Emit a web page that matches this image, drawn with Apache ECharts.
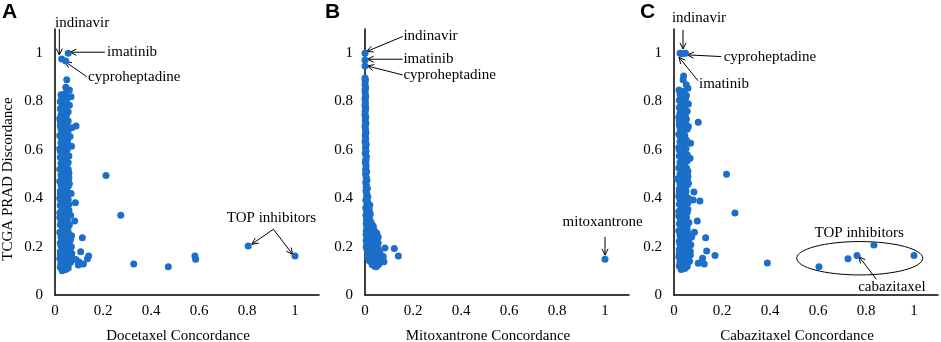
<!DOCTYPE html>
<html>
<head>
<meta charset="utf-8">
<script src="https://cdn.jsdelivr.net/npm/echarts@6/dist/echarts.min.js"></script>
<style>
html, body { margin: 0; padding: 0; background: #fff; }
#main { width: 941px; height: 342px; }
</style>
</head>
<body>
<div id="main"></div>
<script>
// ---------- data: [concordance, TCGA PRAD discordance] ----------
const docetaxelCluster = [
    [0.03,0.1],[0.045,0.105],[0.022,0.115],[0.055,0.112],[0.038,0.12],[0.025,0.13],[0.05,0.128],[0.065,0.135],
    [0.032,0.14],[0.02,0.15],[0.045,0.148],[0.06,0.155],[0.028,0.165],[0.052,0.17],[0.07,0.172],[0.022,0.18],
    [0.04,0.185],[0.058,0.19],[0.03,0.2],[0.068,0.2],[0.048,0.205],[0.022,0.215],[0.06,0.22],[0.035,0.225],
    [0.05,0.235],[0.025,0.24],[0.069,0.245],[0.042,0.25],[0.02,0.26],[0.055,0.262],[0.032,0.27],[0.048,0.28],
    [0.022,0.29],[0.06,0.29],[0.038,0.3],[0.025,0.31],[0.052,0.315],[0.065,0.33],[0.032,0.325],[0.02,0.34],
    [0.045,0.34],[0.058,0.35],[0.03,0.355],[0.022,0.37],[0.05,0.368],[0.038,0.38],[0.025,0.39],[0.055,0.395],
    [0.02,0.4],[0.042,0.405],[0.03,0.415],[0.067,0.42],[0.05,0.425],[0.022,0.43],[0.038,0.44],[0.055,0.45],
    [0.025,0.455],[0.045,0.465],[0.02,0.47],[0.035,0.48],[0.058,0.485],[0.025,0.495],[0.048,0.5],[0.03,0.51],
    [0.02,0.52],[0.055,0.52],[0.04,0.53],[0.025,0.545],[0.05,0.548],[0.032,0.56],[0.022,0.57],[0.058,0.575],
    [0.042,0.58],[0.028,0.59],[0.05,0.6],[0.02,0.605],[0.069,0.615],[0.038,0.62],[0.025,0.63],[0.052,0.635],
    [0.03,0.645],[0.0625,0.655],[0.02,0.66],[0.045,0.665],[0.028,0.675],[0.055,0.68],[0.035,0.69],[0.022,0.7],
    [0.048,0.705],[0.03,0.715],[0.055,0.72],[0.02,0.73],[0.04,0.735],[0.025,0.745],[0.055,0.758],[0.035,0.76],
    [0.022,0.77],[0.045,0.775],[0.03,0.785],[0.05,0.79],[0.022,0.8],[0.04,0.805],[0.028,0.815],[0.067,0.82],
    [0.035,0.828],[0.045,0.835],
    [0.038,0.108],[0.025,0.122],[0.045,0.135],[0.058,0.142],[0.035,0.155],[0.022,0.165],[0.045,0.175],[0.032,0.19],
    [0.055,0.198],[0.025,0.205],[0.04,0.212],[0.05,0.222],[0.028,0.232],[0.06,0.24],[0.035,0.245],[0.048,0.255],
    [0.028,0.265],[0.04,0.275],[0.055,0.282],[0.032,0.292],[0.048,0.3],[0.03,0.302],[0.045,0.312],[0.02,0.32],
    [0.04,0.33],[0.055,0.338],[0.028,0.345],[0.04,0.358],[0.03,0.372],[0.058,0.375],[0.045,0.385],[0.03,0.398],
    [0.048,0.41],[0.022,0.418],[0.04,0.425],[0.03,0.435],[0.048,0.442],[0.035,0.458],[0.055,0.47],[0.028,0.475],
    [0.042,0.49],[0.035,0.5],[0.058,0.505],[0.038,0.515],[0.045,0.545],[0.03,0.53],[0.04,0.555],[0.028,0.565],
    [0.045,0.57],[0.035,0.585],[0.022,0.595],[0.042,0.605],[0.03,0.615],[0.045,0.625],[0.035,0.635],[0.04,0.65],
    [0.025,0.652],[0.035,0.665],[0.042,0.68],[0.025,0.688],[0.045,0.695],[0.038,0.71],[0.022,0.718],[0.045,0.728],
    [0.03,0.735],[0.048,0.745],[0.038,0.752],[0.028,0.765],[0.04,0.79],[0.032,0.8],[0.048,0.81],[0.025,0.828],
    [0.06,0.785],[0.055,0.548],[0.06,0.46],[0.065,0.23],[0.062,0.185],[0.068,0.16],[0.055,0.125]
];
const docetaxelOutliers = [
    [0.2125,0.494],[0.274,0.33],[0.328,0.128],[0.472,0.117],[0.583,0.161],[0.586,0.148],[0.805,0.203],[1.0,0.161],
    [0.114,0.237],[0.107,0.179],[0.14,0.161],[0.0875,0.699],[0.07,0.692],[0.085,0.382],[0.082,0.306],[0.099,0.138],
    [0.118,0.128],[0.097,0.124],[0.135,0.15],[0.0867,0.147],[0.049,0.89],[0.045,0.859],[0.06,0.848],
    [0.028,0.976],[0.045,0.968],[0.055,1.0]
];

const mitoxantroneCluster = [
    [0,0.897],[0.001,0.885],[0,0.872],[0.002,0.86],[0,0.848],[0.001,0.835],[0.003,0.822],[0,0.81],[0.002,0.797],
    [0,0.785],[0.003,0.772],[0.001,0.76],[0,0.747],[0.003,0.735],[0.001,0.722],[0.004,0.71],[0,0.697],[0.002,0.685],
    [0.004,0.672],[0.001,0.66],[0.003,0.647],[0,0.635],[0.005,0.622],[0.002,0.61],[0.004,0.597],[0.001,0.585],
    [0.006,0.572],[0.003,0.56],[0.001,0.547],[0.005,0.535],[0.003,0.522],[0.007,0.51],[0.002,0.5],[0.005,0.487],
    [0.008,0.475],[0.003,0.465],[0.006,0.452],[0.01,0.44],[0.004,0.43],[0.008,0.418],[0.012,0.405],[0.005,0.395],
    [0.01,0.385],[0.02,0.372],[0.007,0.37],[0.015,0.36],[0.006,0.35],[0.012,0.34],[0.022,0.335],[0.008,0.325],
    [0.018,0.318],[0.01,0.305],[0.025,0.3],[0.015,0.29],[0.035,0.283],[0.008,0.28],[0.022,0.27],[0.012,0.26],
    [0.03,0.262],[0.049,0.255],[0.04,0.25],[0.018,0.248],[0.008,0.24],[0.028,0.238],[0.045,0.232],[0.012,0.228],
    [0.022,0.22],[0.035,0.218],[0.055,0.215],[0.008,0.212],[0.018,0.205],[0.03,0.2],[0.045,0.198],[0.012,0.195],
    [0.025,0.19],[0.038,0.185],[0.055,0.19],[0.01,0.18],[0.02,0.175],[0.032,0.172],[0.048,0.17],[0.062,0.175],
    [0.015,0.165],[0.028,0.16],[0.04,0.158],[0.055,0.155],[0.02,0.15],[0.035,0.145],[0.05,0.142],[0.065,0.14],
    [0.025,0.137],[0.04,0.13],[0.058,0.128],[0.03,0.125],[0.045,0.118],[0.052,0.122],
    [0.001,0.891],[0.002,0.854],[0.001,0.816],[0.002,0.779],[0.001,0.741],[0.002,0.704],[0.002,0.666],[0.003,0.629],
    [0.003,0.591],[0.004,0.554],[0.004,0.516],[0.006,0.48],[0.005,0.446],[0.007,0.41],
    [0.004,0.392],[0.012,0.378],[0.003,0.36],[0.018,0.35],[0.004,0.33],[0.015,0.332],[0.006,0.31],[0.02,0.31],
    [0.005,0.295],[0.03,0.29],[0.018,0.28],[0.005,0.265],[0.028,0.275],[0.04,0.265],[0.015,0.255],[0.025,0.25],
    [0.005,0.25],[0.035,0.24],[0.055,0.24],[0.018,0.235],[0.005,0.225],[0.03,0.228],[0.045,0.22],[0.015,0.215],
    [0.025,0.21],[0.04,0.21],[0.005,0.2],[0.022,0.198],[0.035,0.195],[0.05,0.205],[0.008,0.19],[0.045,0.185],
    [0.03,0.18],[0.015,0.178],[0.04,0.172],[0.055,0.168],[0.022,0.165],[0.035,0.16],[0.048,0.158],[0.012,0.158],
    [0.028,0.15],[0.042,0.148],[0.058,0.148],[0.018,0.142],[0.032,0.138],[0.05,0.135],[0.035,0.128],[0.05,0.125],
    [0.04,0.12],[0.06,0.135]
];
const mitoxantroneOutliers = [
    [0.083,0.194],[0.122,0.192],[0.139,0.161],[0.076,0.159],[0.079,0.138],[0.046,0.117],
    [0,1.0],[0,0.972],[0,0.947],[1.0,0.148]
];

const cabazitaxelCluster = [
    [0.03,0.105],[0.045,0.11],[0.022,0.12],[0.055,0.118],[0.038,0.128],[0.025,0.138],[0.05,0.135],[0.065,0.14],
    [0.032,0.148],[0.02,0.158],[0.045,0.155],[0.06,0.162],[0.028,0.17],[0.052,0.175],[0.068,0.18],[0.022,0.188],
    [0.04,0.192],[0.058,0.198],[0.03,0.205],[0.07,0.208],[0.048,0.212],[0.022,0.222],[0.06,0.228],[0.035,0.232],
    [0.05,0.242],[0.025,0.248],[0.065,0.25],[0.042,0.258],[0.02,0.266],[0.055,0.27],[0.032,0.278],[0.048,0.288],
    [0.022,0.295],[0.062,0.3],[0.038,0.308],[0.025,0.318],[0.052,0.322],[0.032,0.332],[0.02,0.345],[0.045,0.346],
    [0.058,0.355],[0.03,0.36],[0.022,0.375],[0.05,0.372],[0.038,0.385],[0.08,0.393],[0.025,0.395],[0.06,0.4],
    [0.02,0.408],[0.042,0.412],[0.03,0.42],[0.05,0.43],[0.022,0.438],[0.038,0.445],[0.055,0.455],[0.025,0.46],
    [0.045,0.47],[0.0125,0.48],[0.035,0.485],[0.058,0.49],[0.025,0.5],[0.048,0.505],[0.03,0.515],[0.02,0.525],
    [0.052,0.525],[0.04,0.535],[0.025,0.548],[0.05,0.552],[0.032,0.565],[0.067,0.566],[0.022,0.575],[0.055,0.58],
    [0.042,0.585],[0.028,0.595],[0.05,0.605],[0.02,0.61],[0.038,0.622],[0.069,0.628],[0.025,0.635],[0.052,0.64],
    [0.03,0.65],[0.045,0.66],[0.02,0.665],[0.028,0.68],[0.055,0.685],[0.035,0.695],[0.06,0.697],[0.022,0.705],
    [0.048,0.71],[0.03,0.72],[0.052,0.728],[0.02,0.735],[0.04,0.742],[0.025,0.752],[0.055,0.76],[0.035,0.765],
    [0.022,0.775],[0.045,0.78],[0.03,0.79],[0.05,0.795],[0.022,0.805],[0.04,0.81],[0.028,0.82],[0.052,0.825],
    [0.035,0.832],[0.021,0.848],[0.058,0.855],[0.051,0.869],[0.038,0.89],[0.04,0.906],
    [0.038,0.112],[0.025,0.128],[0.045,0.14],[0.058,0.148],[0.035,0.162],[0.022,0.172],[0.045,0.182],[0.032,0.196],
    [0.055,0.205],[0.025,0.21],[0.04,0.218],[0.05,0.228],[0.028,0.238],[0.058,0.245],[0.035,0.25],[0.048,0.262],
    [0.028,0.27],[0.04,0.282],[0.055,0.288],[0.032,0.298],[0.048,0.305],[0.03,0.31],[0.045,0.318],[0.02,0.328],
    [0.04,0.336],[0.055,0.342],[0.028,0.352],[0.04,0.365],[0.03,0.38],[0.058,0.382],[0.045,0.392],[0.03,0.405],
    [0.048,0.418],[0.022,0.425],[0.04,0.432],[0.03,0.442],[0.048,0.45],[0.035,0.465],[0.055,0.475],[0.028,0.47],
    [0.042,0.495],[0.035,0.508],[0.058,0.512],[0.038,0.52],[0.045,0.55],[0.03,0.538],[0.04,0.56],[0.028,0.57],
    [0.045,0.575],[0.035,0.59],[0.022,0.6],[0.042,0.61],[0.03,0.62],[0.045,0.63],[0.035,0.64],[0.04,0.655],
    [0.025,0.658],[0.035,0.67],[0.042,0.685],[0.025,0.692],[0.045,0.7],[0.038,0.715],[0.022,0.722],[0.045,0.732],
    [0.03,0.74],[0.048,0.75],[0.038,0.758],[0.028,0.77],[0.04,0.795],[0.032,0.805],[0.048,0.815],[0.025,0.832],
    [0.042,0.842],[0.03,0.84],[0.06,0.79],[0.055,0.555],[0.06,0.462],[0.065,0.235],[0.062,0.19],[0.068,0.165],
    [0.055,0.128]
];
const cabazitaxelOutliers = [
    [0.101,0.714],[0.219,0.499],[0.254,0.339],[0.083,0.426],[0.108,0.389],[0.097,0.306],[0.132,0.237],
    [0.136,0.182],[0.171,0.163],[0.119,0.152],[0.101,0.131],[0.126,0.128],[0.389,0.132],[0.074,0.241],[0.085,0.26],
    [0.025,1.0],[0.048,1.0],[0.035,0.998],
    [0.604,0.117],[0.725,0.15],[0.7625,0.163],[0.833,0.207],[1.0,0.163]
];

const panelLetters = ['A', 'B', 'C'];
const xNames = ['Docetaxel Concordance', 'Mitoxantrone Concordance', 'Cabazitaxel Concordance'];
const yName = 'TCGA PRAD Discordance';

// annotations, in data coordinates of each panel
const labels = [
    [
        { text: 'indinavir', at: [0, 1.124], align: 'left' },
        { text: 'imatinib', at: [0.217, 1.004], align: 'left' },
        { text: 'cyproheptadine', at: [0.1375, 0.903], align: 'left' },
        { text: 'TOP inhibitors', at: [0.902, 0.319], align: 'center' }
    ],
    [
        { text: 'indinavir', at: [0.16, 1.069], align: 'left' },
        { text: 'imatinib', at: [0.16, 0.975], align: 'left' },
        { text: 'cyproheptadine', at: [0.16, 0.91], align: 'left' },
        { text: 'mitoxantrone', at: [0.99, 0.303], align: 'center' }
    ],
    [
        { text: 'indinavir', at: [0.104, 1.145], align: 'center' },
        { text: 'cyproheptadine', at: [0.207, 0.986], align: 'left' },
        { text: 'imatinib', at: [0.104, 0.872], align: 'left' },
        { text: 'TOP inhibitors', at: [0.772, 0.255], align: 'center' },
        { text: 'cabazitaxel', at: [0.908, 0.034], align: 'center' }
    ]
];
const arrows = [
    [
        [[0.018, 1.10], [0.018, 0.993]],
        [[0.208, 1.004], [0.0625, 1.004]],
        [[0.132, 0.903], [0.042, 0.965]],
        [[0.91, 0.272], [0.82, 0.21]],
        [[0.91, 0.272], [0.99, 0.168]]
    ],
    [
        [[0.157, 1.069], [0.007, 1.007]],
        [[0.157, 0.975], [0.01, 0.975]],
        [[0.157, 0.91], [0.01, 0.947]],
        [[1.0, 0.24], [1.0, 0.165]]
    ],
    [
        [[0.0375, 1.097], [0.0375, 1.017]],
        [[0.197, 0.986], [0.056, 0.993]],
        [[0.1, 0.886], [0.021, 0.983]],
        [[0.843, 0.065], [0.771, 0.159]]
    ]
];
// ellipse round the TOP inhibitors in panel C: centre, half-width, half-height
const topEllipse = { center: [0.774, 0.152], rx: 0.2625, ry: 0.069 };

const DOT = '#1b6fc9';
const FONT = 'Liberation Serif';

const panels = [
    docetaxelCluster.concat(docetaxelOutliers),
    mitoxantroneCluster.concat(mitoxantroneOutliers),
    cabazitaxelCluster.concat(cabazitaxelOutliers)
];
const gridLeft = [55, 365, 674];

function tickText(v) {
    return v > 1.0001 ? '' : String(+v.toFixed(1));
}

const option = {
    animation: false,
    backgroundColor: '#fff',
    grid: gridLeft.map(function (l) {
        return { left: l, top: 29, width: 264, height: 266, outerBoundsMode: 'none' };
    }),
    xAxis: panels.map(function (p, i) {
        return {
            gridIndex: i,
            type: 'value',
            min: 0,
            max: 1.1,
            interval: 0.2,
            name: xNames[i],
            nameLocation: 'middle',
            nameGap: 34,
            nameTextStyle: {
                fontFamily: FONT,
                fontSize: 15,
                color: '#000',
                padding: [0, 18, 0, 0]
            },
            axisLine: { show: true, onZero: false, lineStyle: { color: '#000', width: 1.5 } },
            axisTick: { show: false },
            splitLine: { show: false },
            axisLabel: { margin: 9, color: '#000', fontFamily: FONT, fontSize: 15, formatter: tickText }
        };
    }),
    yAxis: panels.map(function (p, i) {
        return {
            gridIndex: i,
            type: 'value',
            min: 0,
            max: 1.1,
            interval: 0.2,
            name: i === 0 ? yName : '',
            nameLocation: 'middle',
            nameGap: 39,
            nameTextStyle: {
                fontFamily: FONT,
                fontSize: 15,
                color: '#000',
                padding: [0, 34, 0, 0]
            },
            axisLine: { show: true, onZero: false, lineStyle: { color: '#000', width: 1.5 } },
            axisTick: { show: false },
            splitLine: { show: false },
            axisLabel: { margin: 12, color: '#000', fontFamily: FONT, fontSize: 15, formatter: tickText }
        };
    }),
    series: panels.map(function (p, i) {
        return {
            type: 'scatter',
            xAxisIndex: i,
            yAxisIndex: i,
            symbol: 'circle',
            symbolSize: 7,
            itemStyle: { color: DOT, opacity: 1 },
            data: p
        };
    })
};

const chart = echarts.init(document.getElementById('main'));
chart.setOption(option);

// annotations are laid out in data space and converted to pixels
const graphics = [];
panelLetters.forEach(function (letter, i) {
    graphics.push({
        type: 'text',
        left: [2, 325, 640][i],
        top: 2,
        style: { text: letter, font: 'bold 21px "Liberation Sans"', fill: '#000' }
    });
});

labels.forEach(function (list, i) {
    list.forEach(function (lb) {
        const p = chart.convertToPixel({ gridIndex: i }, lb.at);
        graphics.push({
            type: 'text',
            x: p[0],
            y: p[1],
            style: {
                text: lb.text,
                font: '15px "' + FONT + '"',
                fill: '#000',
                align: lb.align,
                verticalAlign: 'middle'
            }
        });
    });
});

arrows.forEach(function (list, i) {
    list.forEach(function (a) {
        const p1 = chart.convertToPixel({ gridIndex: i }, a[0]);
        const p2 = chart.convertToPixel({ gridIndex: i }, a[1]);
        const ang = Math.atan2(p2[1] - p1[1], p2[0] - p1[0]);
        const len = 7, spread = 0.45;
        graphics.push({
            type: 'line',
            shape: { x1: p1[0], y1: p1[1], x2: p2[0], y2: p2[1] },
            style: { stroke: '#000', lineWidth: 1 }
        });
        graphics.push({
            type: 'polyline',
            shape: {
                points: [
                    [p2[0] - len * Math.cos(ang - spread), p2[1] - len * Math.sin(ang - spread)],
                    p2,
                    [p2[0] - len * Math.cos(ang + spread), p2[1] - len * Math.sin(ang + spread)]
                ]
            },
            style: { stroke: '#000', lineWidth: 1, fill: null }
        });
    });
});

{
    const c = chart.convertToPixel({ gridIndex: 2 }, topEllipse.center);
    const e = chart.convertToPixel({ gridIndex: 2 }, [topEllipse.center[0] + topEllipse.rx, topEllipse.center[1] + topEllipse.ry]);
    graphics.push({
        type: 'ellipse',
        shape: { cx: c[0], cy: c[1], rx: Math.abs(e[0] - c[0]), ry: Math.abs(c[1] - e[1]) },
        style: { stroke: '#000', lineWidth: 1, fill: null }
    });
}

chart.setOption({ graphic: graphics });
</script>
</body>
</html>
